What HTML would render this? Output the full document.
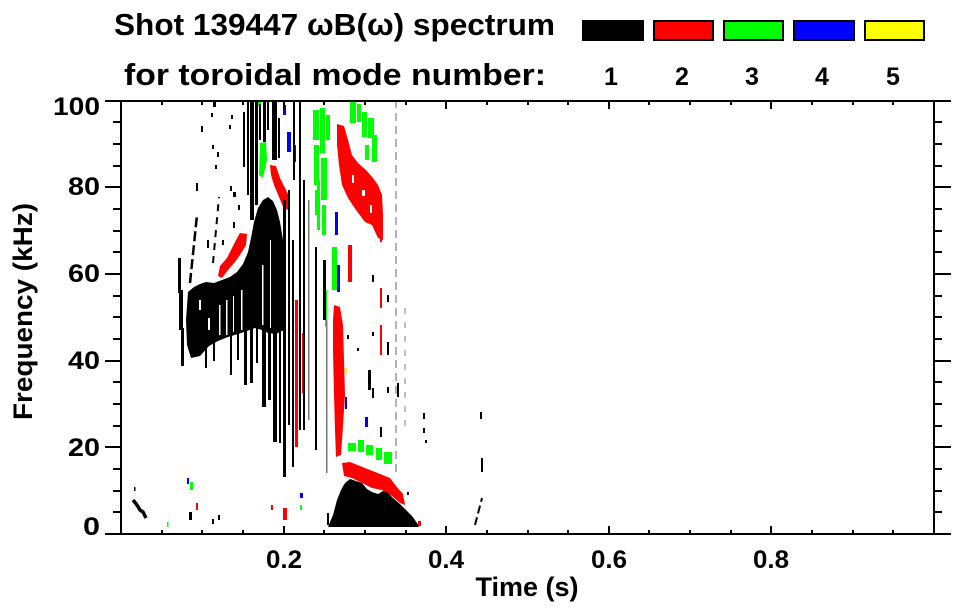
<!DOCTYPE html>
<html>
<head>
<meta charset="utf-8">
<style>
html,body{margin:0;padding:0;background:#fff;width:963px;height:615px;overflow:hidden}
svg{display:block}
</style>
</head>
<body>
<svg width="963" height="615" viewBox="0 0 963 615" xmlns="http://www.w3.org/2000/svg" font-family="'Liberation Sans', Arial, Helvetica, sans-serif" font-weight="bold">
<rect x="0" y="0" width="963" height="615" fill="#fff"/>

<g fill="#ff0000">
<path d="M337,124 L344,126 L348,140 L352,155 L358,163 L366,170 L373,178 L378,185 L382,195 L383,215 L383,240 L378,238 L372,225 L365,222 L356,210 L348,198 L342,185 L339,165 L337,145 Z"/>
<path d="M240,233 L247,234 L246,245 L240,255 L235,262 L228,270 L222,278 L218,276 L220,266 L227,258 L232,248 L236,240 Z"/>
<path d="M270,165 L276,166 L280,178 L285,188 L290,198 L290,210 L284,209 L279,197 L274,185 L271,175 Z"/>
<path d="M334,305 L340,307 L343,325 L344,360 L345,395 L343,425 L341,455 L336,457 L335,430 L334,395 L333,350 L333,320 Z"/>
<rect x="295" y="300" width="3" height="147"/>
<rect x="302" y="333" width="3" height="60"/>
<path d="M342,463 L350,462 L360,466 L370,470 L380,474 L390,478 L396,486 L403,494 L405,505 L400,503 L392,496 L382,490 L372,488 L362,483 L352,478 L344,476 Z"/>
<rect x="348" y="245" width="4" height="37"/>
<rect x="380" y="195" width="2" height="47"/>
<rect x="380" y="288" width="2" height="20"/>
<rect x="380" y="325" width="2" height="30"/>
<rect x="196" y="503" width="2" height="7"/>
<rect x="271" y="505" width="2" height="5"/>
<rect x="283" y="508" width="4" height="12"/>
<rect x="418" y="521" width="3" height="5"/>
</g>
<g fill="#fff">
<rect x="352" y="175" width="2" height="8"/>
<rect x="362" y="190" width="3" height="6"/>
<rect x="370" y="205" width="2" height="8"/>
</g>

<g fill="#00ff00">
<rect x="313" y="110" width="6" height="30"/>
<rect x="320" y="108" width="5" height="45"/>
<rect x="326" y="115" width="4" height="25"/>
<rect x="314" y="145" width="5" height="40"/>
<rect x="321" y="158" width="6" height="42"/>
<rect x="315" y="190" width="4" height="25"/>
<rect x="322" y="205" width="4" height="30"/>
<rect x="317" y="180" width="3" height="50"/>
<rect x="350" y="101" width="6" height="22"/>
<rect x="357" y="104" width="4" height="18"/>
<rect x="362" y="112" width="5" height="25"/>
<rect x="368" y="118" width="6" height="20"/>
<rect x="372" y="135" width="5" height="27"/>
<rect x="365" y="145" width="4" height="15"/>
<path d="M260,143 L266,142 L267,160 L263,178 L259,175 Z"/>
<rect x="348" y="443" width="8" height="8"/>
<rect x="358" y="440" width="6" height="12"/>
<rect x="366" y="445" width="7" height="10"/>
<rect x="376" y="448" width="6" height="12"/>
<rect x="384" y="452" width="8" height="12"/>
<rect x="332" y="247" width="5" height="43"/>
<rect x="325" y="290" width="2" height="37"/>
<rect x="190" y="482" width="3" height="8"/>
<rect x="167" y="522" width="1.5" height="5"/>
<rect x="300" y="505" width="2" height="5"/>
<rect x="258" y="100" width="3" height="6"/>
</g>

<g fill="#0000ff">
<rect x="283" y="105" width="3" height="10"/>
<rect x="287" y="132" width="4" height="20"/>
<rect x="293" y="145" width="3" height="17"/>
<rect x="335" y="212" width="3" height="23"/>
<rect x="337" y="265" width="3" height="27"/>
<rect x="345" y="397" width="2" height="12"/>
<rect x="365" y="417" width="3" height="10"/>
<rect x="187" y="478" width="2" height="6"/>
<rect x="300" y="493" width="3" height="5"/>
</g>
<rect x="345" y="368" width="2" height="5" fill="#ffff00"/>

<g fill="#000">
<path d="M188,292 L194,287 L200,284 L206,282 L214,283 L222,280 L230,277 L237,272 L243,264 L248,252 L251,238 L254,222 L258,208 L263,200 L268,197 L273,201 L277,210 L280,222 L283,240 L285,265 L285,295 L284,330 L276,334 L268,333 L262,330 L255,328 L247,331 L238,334 L228,337 L218,341 L209,346 L200,356 L191,358 L187,345 L186,320 Z"/>
<rect x="178" y="258" width="3" height="35"/>
<rect x="179" y="290" width="4" height="40"/>
<rect x="181" y="328" width="3" height="38"/>
<rect x="243" y="112" width="2" height="55"/>
<rect x="247" y="100" width="2" height="95"/>
<rect x="250" y="100" width="4" height="120"/>
<rect x="255" y="100" width="3" height="105"/>
<rect x="259" y="104" width="2" height="36"/>
<rect x="263" y="100" width="3" height="42"/>
<rect x="267" y="100" width="2" height="30"/>
<rect x="272" y="100" width="5" height="60"/>
<rect x="278" y="118" width="2" height="40"/>
<rect x="293" y="100" width="2" height="80"/>
<rect x="230" y="333" width="2" height="42"/>
<rect x="237" y="332" width="2" height="28"/>
<rect x="244" y="330" width="3" height="55"/>
<rect x="250" y="328" width="3" height="55"/>
<rect x="256" y="328" width="2" height="35"/>
<rect x="262" y="330" width="4" height="77"/>
<rect x="268" y="330" width="3" height="70"/>
<rect x="273" y="330" width="4" height="112"/>
<rect x="279" y="330" width="2" height="113"/>
<rect x="283" y="200" width="3" height="277"/>
<rect x="288" y="190" width="2" height="235"/>
<rect x="292" y="240" width="2" height="227"/>
<rect x="299" y="100" width="2" height="330"/>
<rect x="303" y="180" width="2" height="250"/>
<rect x="323" y="260" width="3" height="60"/>
<rect x="315" y="247" width="2" height="203"/>
<rect x="213" y="341" width="2" height="20"/>
<rect x="205" y="346" width="2" height="22"/>
</g>
<g fill="#777">
<rect x="308" y="200" width="1.5" height="220"/>
<rect x="326" y="320" width="1.5" height="153"/>
</g>
<g fill="#fff">
<rect x="219" y="305" width="1.5" height="30"/>
<rect x="226" y="300" width="1.5" height="35"/>
<rect x="233" y="296" width="1" height="36"/>
<rect x="241" y="290" width="1.5" height="40"/>
<rect x="262" y="265" width="1.5" height="60"/>
<rect x="270" y="240" width="1" height="88"/>
<rect x="199" y="300" width="2" height="10"/>
<rect x="208" y="318" width="2" height="12"/>
</g>
<g stroke="#000" fill="none">
<path d="M190,283 L197,215" stroke-width="2.5" stroke-dasharray="10 4"/>
<path d="M213,263 L219,197" stroke-width="2" stroke-dasharray="7 6"/>
<path d="M133,500 L137,505 L140,510 L143,512 L146,518" stroke-width="3.5"/>
<path d="M475,525 L482,498" stroke-width="2" stroke-dasharray="8 4"/>
</g>
<path fill="#000" d="M328,527 L333,515 L337,500 L341,490 L345,483 L350,479 L356,481 L362,483 L367,489 L372,492 L378,494 L383,491 L388,493 L393,498 L400,504 L406,510 L412,516 L417,523 L419,527 Z"/>
<path d="M396,100 V475" stroke="#999" stroke-width="1.5" stroke-dasharray="8 5" fill="none"/>
<path d="M405,308 V430" stroke="#aaa" stroke-width="1.5" stroke-dasharray="6 8" fill="none"/>

<g fill="#000">
<rect x="213" y="101" width="3" height="6"/>
<rect x="211" y="113" width="2" height="4"/>
<rect x="231" y="115" width="2" height="4"/>
<rect x="217" y="152" width="2" height="5"/>
<rect x="212" y="145" width="2" height="4"/>
<rect x="215" y="165" width="2" height="4"/>
<rect x="196" y="183" width="2" height="8"/>
<rect x="233" y="192" width="3" height="5"/>
<rect x="230" y="186" width="2" height="5"/>
<rect x="238" y="205" width="2" height="5"/>
<rect x="233" y="222" width="2" height="6"/>
<rect x="243" y="140" width="2" height="8"/>
<rect x="201" y="126" width="2" height="6"/>
<rect x="229" y="125" width="2" height="4"/>
<rect x="222" y="240" width="2" height="5"/>
<rect x="207" y="240" width="2" height="8"/>
<rect x="134" y="487" width="1.5" height="4"/>
<rect x="189" y="512" width="3" height="8"/>
<rect x="212" y="519" width="2" height="5"/>
<rect x="218" y="515" width="2" height="5"/>
<rect x="347" y="335" width="2" height="4"/>
<rect x="357" y="348" width="2" height="3"/>
<rect x="368" y="370" width="3" height="20"/>
<rect x="372" y="332" width="2" height="4"/>
<rect x="380" y="427" width="2" height="10"/>
<rect x="387" y="387" width="2" height="6"/>
<rect x="397" y="383" width="2" height="14"/>
<rect x="407" y="492" width="2" height="3"/>
<rect x="425" y="440" width="2" height="3"/>
<rect x="372" y="275" width="2" height="7"/>
<rect x="387" y="295" width="2" height="7"/>
<rect x="387" y="342" width="2" height="13"/>
<rect x="372" y="388" width="2" height="10"/>
<rect x="423" y="413" width="2" height="6"/>
<rect x="423" y="428" width="2" height="5"/>
<rect x="480" y="412" width="2" height="7"/>
<rect x="481" y="458" width="2" height="14"/>
<rect x="327" y="513" width="2" height="12"/>
</g>

<g stroke="#000" stroke-width="2" fill="none" shape-rendering="crispEdges">
<path d="M105,101 H951 M105,534 H951 M121,101 V534 M934,101 V534"/>
<path d="M105,187H121M105,274H121M105,361H121M105,447H121M934,187H951M934,274H951M934,361H951M934,447H951"/>
<path d="M113,122H121M113,144H121M113,166H121M113,209H121M113,231H121M113,252H121M113,296H121M113,317H121M113,339H121M113,382H121M113,404H121M113,426H121M113,469H121M113,491H121M113,512H121"/>
<path d="M934,122H942M934,144H942M934,166H942M934,209H942M934,231H942M934,252H942M934,296H942M934,317H942M934,339H942M934,382H942M934,404H942M934,426H942M934,469H942M934,491H942M934,512H942"/>
<path d="M162,101V105M202,101V105M243,101V105M324,101V105M365,101V105M406,101V105M487,101V105M528,101V105M568,101V105M649,101V105M690,101V105M731,101V105M812,101V105M853,101V105M893,101V105"/>
<path d="M284,101V109M446,101V109M609,101V109M771,101V109"/>
<path d="M162,534V530M202,534V530M243,534V530M324,534V530M365,534V530M406,534V530M487,534V530M528,534V530M568,534V530M649,534V530M690,534V530M731,534V530M812,534V530M853,534V530M893,534V530"/>
<path d="M284,534V526M446,534V526M609,534V526M771,534V526"/>
</g>

<g fill="#000">
<text x="114" y="35" font-size="31" textLength="441" lengthAdjust="spacingAndGlyphs">Shot 139447 ωB(ω) spectrum</text>
<text x="124" y="85" font-size="31" textLength="422" lengthAdjust="spacingAndGlyphs">for toroidal mode number:</text>
<g font-size="25" text-anchor="middle">
<text x="611" y="85">1</text>
<text x="682" y="85">2</text>
<text x="752" y="85">3</text>
<text x="822" y="85">4</text>
<text x="893" y="85">5</text>
</g>
<g font-size="25" text-anchor="end">
<text x="100" y="115" textLength="47" lengthAdjust="spacingAndGlyphs">100</text>
<text x="100" y="195" textLength="32" lengthAdjust="spacingAndGlyphs">80</text>
<text x="100" y="282" textLength="32" lengthAdjust="spacingAndGlyphs">60</text>
<text x="100" y="369" textLength="32" lengthAdjust="spacingAndGlyphs">40</text>
<text x="100" y="456" textLength="32" lengthAdjust="spacingAndGlyphs">20</text>
<text x="100" y="535" textLength="17" lengthAdjust="spacingAndGlyphs">0</text>
</g>
<g font-size="25" text-anchor="middle">
<text x="284" y="568" textLength="36" lengthAdjust="spacingAndGlyphs">0.2</text>
<text x="446" y="568" textLength="36" lengthAdjust="spacingAndGlyphs">0.4</text>
<text x="609" y="568" textLength="36" lengthAdjust="spacingAndGlyphs">0.6</text>
<text x="771" y="568" textLength="36" lengthAdjust="spacingAndGlyphs">0.8</text>
</g>
<text x="527" y="596" font-size="27" text-anchor="middle" textLength="103" lengthAdjust="spacingAndGlyphs">Time (s)</text>
<text transform="translate(32,311.5) rotate(-90)" x="0" y="0" font-size="27" text-anchor="middle" textLength="217" lengthAdjust="spacingAndGlyphs">Frequency (kHz)</text>
</g>

<rect x="582" y="20" width="62" height="21" fill="#000"/>
<g stroke="#000" stroke-width="2">
<rect x="654" y="21" width="59" height="19" fill="#ff0000"/>
<rect x="724" y="21" width="59" height="19" fill="#00ff00"/>
<rect x="794" y="21" width="60" height="19" fill="#0000ff"/>
<rect x="865" y="21" width="59" height="19" fill="#ffff00"/>
</g>
</svg>
</body>
</html>
